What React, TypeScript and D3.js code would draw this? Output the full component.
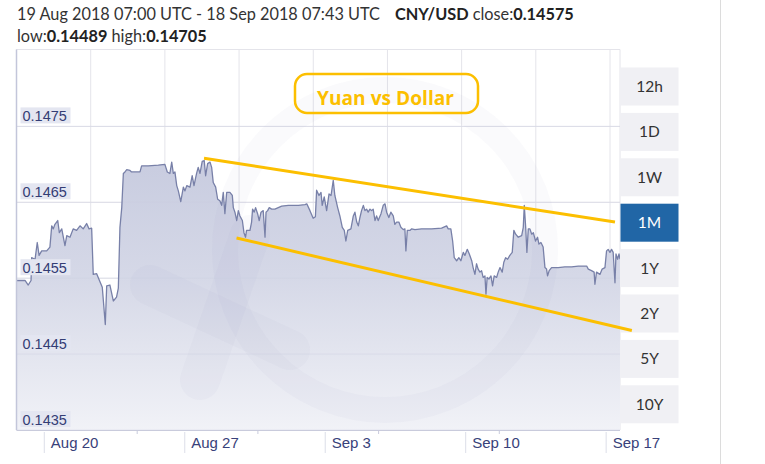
import React from "react";
import * as d3 from "d3";

// ---- chart data ----
const periodLabel = "19 Aug 2018 07:00 UTC - 18 Sep 2018 07:43 UTC";
const pairLabel = "CNY/USD";
const closeValue = "0.14575";
const lowValue = "0.14489";
const highValue = "0.14705";

// days relative to Aug 20 2018 00:00 UTC
const dayOffsets = [
  -1.385, -0.96, -0.8, -0.66, -0.63, -0.46, -0.35, -0.26, -0.13, 0.12,
  0.28, 0.37, 0.45, 0.53, 0.67, 0.75, 0.87, 1.03, 1.12, 1.28,
  1.44, 1.61, 1.78, 1.94, 2.11, 2.23, 2.36, 2.44, 2.61, 2.78,
  2.89, 3.04, 3.11, 3.27, 3.44, 3.6, 3.69, 3.77, 3.86, 3.94,
  4.02, 4.11, 4.27, 4.35, 4.77, 4.85, 5.18, 5.68, 6.01, 6.13,
  6.26, 6.35, 6.43, 6.51, 6.6, 6.68, 6.8, 6.93, 7.01, 7.1,
  7.26, 7.37, 7.46, 7.59, 7.67, 7.76, 7.87, 7.97, 8.04, 8.14,
  8.26, 8.34, 8.42, 8.54, 8.64, 8.75, 8.84, 8.92, 9.0, 9.09,
  9.25, 9.37, 9.42, 9.5, 9.59, 9.67, 9.75, 9.87, 9.95, 10.03,
  10.08, 10.25, 10.33, 10.38, 10.46, 10.53, 10.63, 10.71, 10.8, 10.91,
  11.0, 11.05, 11.13, 11.21, 11.33, 11.49, 11.66, 11.83, 12.16, 12.66,
  12.99, 13.08, 13.24, 13.4, 13.51, 13.57, 13.69, 13.79, 13.85, 13.95,
  14.07, 14.19, 14.29, 14.4, 14.48, 14.62, 14.73, 14.85, 14.95, 15.03,
  15.12, 15.28, 15.4, 15.48, 15.57, 15.65, 15.73, 15.81, 15.9, 15.98,
  16.06, 16.14, 16.23, 16.31, 16.39, 16.48, 16.56, 16.64, 16.78, 16.89,
  16.98, 17.06, 17.17, 17.27, 17.39, 17.47, 17.56, 17.67, 17.77, 17.89,
  17.97, 18.02, 18.09, 18.22, 18.31, 18.47, 18.8, 19.3, 19.8, 20.05,
  20.13, 20.26, 20.35, 20.43, 20.55, 20.66, 20.76, 20.88, 20.96, 21.08,
  21.18, 21.3, 21.37, 21.46, 21.54, 21.62, 21.71, 21.79, 21.87, 21.96,
  22.01, 22.07, 22.16, 22.26, 22.34, 22.42, 22.54, 22.62, 22.71, 22.82,
  22.9, 22.99, 23.09, 23.2, 23.32, 23.4, 23.49, 23.62, 23.79, 23.87,
  23.92, 23.99, 24.05, 24.12, 24.2, 24.29, 24.37, 24.48, 24.58, 24.65,
  24.75, 24.86, 24.95, 25.03, 25.08, 25.16, 25.28, 25.61, 25.94, 26.28,
  26.61, 27.03, 27.11, 27.27, 27.4, 27.44, 27.52, 27.69, 27.8, 27.94,
  28.02, 28.1, 28.19, 28.27, 28.35, 28.44, 28.49, 28.57, 28.64, 28.69,
];

const rates = [
  0.14547, 0.14547, 0.14541, 0.14547, 0.14577, 0.14575, 0.14597, 0.1458, 0.14586, 0.14586,
  0.14591, 0.14619, 0.14615, 0.14621, 0.14626, 0.1461, 0.14615, 0.14593, 0.14606, 0.14604,
  0.14615, 0.14613, 0.14619, 0.14615, 0.14622, 0.14615, 0.14616, 0.14555, 0.14556, 0.14545,
  0.14538, 0.14489, 0.1454, 0.14541, 0.1452, 0.14525, 0.14537, 0.14617, 0.14643, 0.14688,
  0.1469, 0.14693, 0.14692, 0.1469, 0.1469, 0.14698, 0.14698, 0.14699, 0.147, 0.1469,
  0.14688, 0.14703, 0.14688, 0.1469, 0.14672, 0.14665, 0.14651, 0.1467, 0.14665, 0.14672,
  0.1467, 0.14685, 0.14672, 0.14688, 0.14696, 0.14688, 0.14704, 0.14705, 0.14685, 0.14701,
  0.14703, 0.14696, 0.14676, 0.1467, 0.14654, 0.14652, 0.14646, 0.14663, 0.14635, 0.14663,
  0.14663, 0.14659, 0.14643, 0.14637, 0.14626, 0.14639, 0.14632, 0.14626, 0.1461, 0.14604,
  0.14613, 0.14613, 0.14624, 0.14641, 0.14637, 0.14643, 0.14635, 0.14626, 0.14637, 0.14639,
  0.14604, 0.14637, 0.14639, 0.14643, 0.14641, 0.14641, 0.14643, 0.14645, 0.14646, 0.14646,
  0.14647, 0.14648, 0.14639, 0.14629, 0.14631, 0.14666, 0.14659, 0.14663, 0.14646, 0.14657,
  0.14639, 0.14661, 0.14659, 0.14679, 0.14659, 0.14643, 0.14632, 0.14617, 0.14613, 0.14599,
  0.14613, 0.14615, 0.14632, 0.14637, 0.14624, 0.14619, 0.1463, 0.14639, 0.14646, 0.14639,
  0.14641, 0.14637, 0.14641, 0.14639, 0.14641, 0.14626, 0.14632, 0.14626, 0.14635, 0.14646,
  0.14648, 0.14637, 0.1463, 0.14637, 0.14632, 0.14621, 0.14624, 0.14624, 0.14617, 0.14614,
  0.14615, 0.14586, 0.14613, 0.14613, 0.14615, 0.14614, 0.14615, 0.14615, 0.14616, 0.14619,
  0.14615, 0.14615, 0.14599, 0.14577, 0.14573, 0.14577, 0.14573, 0.14584, 0.1458, 0.14588,
  0.14582, 0.14573, 0.14564, 0.14555, 0.14569, 0.14562, 0.14558, 0.1456, 0.14551, 0.14553,
  0.14529, 0.14551, 0.14549, 0.14553, 0.1454, 0.14553, 0.14551, 0.14558, 0.14564, 0.14558,
  0.14571, 0.14577, 0.14575, 0.1458, 0.14584, 0.14613, 0.14608, 0.14604, 0.14606, 0.14617,
  0.14646, 0.14617, 0.14584, 0.14615, 0.14615, 0.14608, 0.1461, 0.14599, 0.14604, 0.14595,
  0.14597, 0.14591, 0.14564, 0.14562, 0.14553, 0.1456, 0.14564, 0.14564, 0.14565, 0.14565,
  0.14566, 0.14566, 0.14562, 0.1456, 0.14558, 0.14542, 0.14558, 0.14555, 0.14562, 0.14564,
  0.14586, 0.14588, 0.14584, 0.14588, 0.14584, 0.14544, 0.14582, 0.14575, 0.14582, 0.14575,
];

// hand-drawn channel: [day, rate]
const resistanceLine: [number, number][] = [[7.96, 0.14708], [28.44, 0.14624]];
const supportLine: [number, number][] = [[9.58, 0.14603], [29.28, 0.14481]];

const yTicks = [0.1435, 0.1445, 0.1455, 0.1465, 0.1475];
const rangeButtons = ["12h", "1D", "1W", "1M", "1Y", "2Y", "5Y", "10Y"];
const activeRange = "1M";
const annotation = "Yuan vs Dollar";

const DAY = 86400000;
const BASE = Date.UTC(2018, 7, 20);
const toDate = (d: number) => new Date(BASE + d * DAY);

export default function App() {
  const W = 765;
  const H = 464;
  const left = 16.5;
  const right = 620;
  const top = 50.5;
  const bottom = 430;

  const x = d3
    .scaleUtc()
    .domain([toDate(-1.385), toDate(28.69)])
    .range([left, right]);
  const y = d3.scaleLinear().domain([0.1435, 0.1485]).range([bottom, top]);

  const series = dayOffsets.map((d, i) => ({ t: toDate(d), v: rates[i] }));

  const area = d3
    .area<{ t: Date; v: number }>()
    .x((p) => x(p.t))
    .y0(bottom)
    .y1((p) => y(p.v));
  const line = d3
    .line<{ t: Date; v: number }>()
    .x((p) => x(p.t))
    .y((p) => y(p.v));
  const trend = d3
    .line<[number, number]>()
    .x((p) => x(toDate(p[0])))
    .y((p) => y(p[1]));

  const xTicks = d3.utcMonday.range(toDate(0), toDate(29));
  const fmt = d3.utcFormat("%b %-d");

  // vertical grid divisions and bottom minor ticks
  const vGrid = d3.range(9).map((i) => left + (i * (610 - left)) / 8);
  const minorTicks = d3.range(1, 5).map((i) => left + (i * (right - left)) / 5);

  const btnX = 620.5;
  const btnW = 58;
  const btnH = 38;
  const btnY0 = 67.5;
  const btnStep = 45.4;

  const uiFont = "Lato, 'Open Sans', sans-serif";
  const axisFont = "'Liberation Sans', Arial, sans-serif";

  return (
    <div style={{ position: "fixed", left: 0, top: 0 }}>
      <svg width={W} height={H} style={{ display: "block", background: "#fff" }}>
        <defs>
          <linearGradient id="areaFill" x1="0" y1={150} x2="0" y2={bottom} gradientUnits="userSpaceOnUse">
            <stop offset="0" stopColor="#c7cbdf" />
            <stop offset="0.45" stopColor="#d5d8e7" />
            <stop offset="1" stopColor="#f1f2f7" />
          </linearGradient>
          <clipPath id="plotClip">
            <rect x={left} y={top} width={right - left} height={bottom - top} />
          </clipPath>
        </defs>

        {/* header */}
        <text x={17} y={20} fontFamily={uiFont} fontSize={16.3} fill="#333">
          {periodLabel}
          <tspan dx={15} fontWeight="bold" fill="#222">{pairLabel}</tspan>
          <tspan> close:</tspan>
          <tspan fontWeight="bold" fill="#222">{closeValue}</tspan>
        </text>
        <text x={17} y={42} fontFamily={uiFont} fontSize={16.3} fill="#333">
          low:<tspan fontWeight="bold" fill="#222">{lowValue}</tspan>
          <tspan> high:</tspan>
          <tspan fontWeight="bold" fill="#222">{highValue}</tspan>
        </text>

        {/* page divider */}
        <line x1={720.5} x2={720.5} y1={0} y2={H} stroke="#dcdcdc" />

        {/* grid */}
        {vGrid.map((gx, i) => (
          <line key={"v" + i} x1={gx} x2={gx} y1={top - 1} y2={bottom} stroke="#e4e4ea" />
        ))}
        <line x1={right} x2={right} y1={top - 1} y2={bottom} stroke="#e4e4ea" />
        <line x1={left} x2={right} y1={top - 1} y2={top - 1} stroke="#e4e4ea" />
        {yTicks.map((t) => (
          <line key={"h" + t} x1={left} x2={right} y1={y(t)} y2={y(t)} stroke="#e4e4ea" />
        ))}

        {/* series */}
        <g clipPath="url(#plotClip)">
          <path d={area(series) || ""} fill="url(#areaFill)" />
          {/* faint watermark */}
          <g fill="none" stroke="#8a90b8" strokeOpacity={0.045} strokeLinecap="round">
            <circle cx={385} cy={250} r={160} strokeWidth={26} />
            <line x1={150} y1={285} x2={290} y2={350} strokeWidth={40} />
            <line x1={250} y1={235} x2={200} y2={380} strokeWidth={40} />
          </g>
          {yTicks.map((t) => (
            <line key={"ho" + t} x1={left} x2={right} y1={y(t)} y2={y(t)} stroke="#c9cce0" strokeOpacity={0.35} />
          ))}
          <path d={line(series) || ""} fill="none" stroke="#7880a8" strokeWidth={1.3} strokeLinejoin="round" />
        </g>

        {/* axes */}
        <line x1={left} x2={left} y1={top - 1} y2={bottom} stroke="#c3c6da" strokeWidth={1.5} />
        <line x1={left} x2={right} y1={bottom + 0.5} y2={bottom + 0.5} stroke="#c9cbdc" />
        {minorTicks.map((mx, i) => (
          <line key={"m" + i} x1={mx} x2={mx} y1={bottom} y2={bottom + 4} stroke="#c9cbdc" />
        ))}
        {xTicks.map((t) => (
          <g key={t.toISOString()}>
            <line x1={x(t)} x2={x(t)} y1={bottom + 2} y2={bottom + 23} stroke="#dcdee8" />
            <text x={x(t) + 6.5} y={448} fontFamily={axisFont} fontSize={15} fill="#38417a">
              {fmt(t)}
            </text>
          </g>
        ))}
        {yTicks.map((t) => (
          <g key={"yl" + t}>
            <rect x={20.5} y={y(t) - 19} width={50} height={16} fill="#e4e6f1" />
            <text x={22.5} y={y(t) - 5} fontFamily={axisFont} fontSize={14.5} fill="#343d75">
              {t.toFixed(4)}
            </text>
          </g>
        ))}

        {/* range buttons */}
        {rangeButtons.map((b, i) => {
          const active = b === activeRange;
          const by = btnY0 + i * btnStep;
          return (
            <g key={b}>
              <rect x={btnX} y={by} width={btnW} height={btnH} fill={active ? "#2166a6" : "#f0f0f4"} />
              <text
                x={btnX + btnW / 2}
                y={by + btnH / 2 + 5.5}
                textAnchor="middle"
                fontFamily={uiFont}
                fontSize={15.5}
                fill={active ? "#fff" : "#333"}
              >
                {b}
              </text>
            </g>
          );
        })}

        {/* channel lines */}
        <path d={trend(resistanceLine) || ""} stroke="#fcbf00" strokeWidth={3} fill="none" />
        <path d={trend(supportLine) || ""} stroke="#fcbf00" strokeWidth={3} fill="none" />

        {/* annotation */}
        <rect x={295} y={74} width={183} height={39} rx={12} fill="none" stroke="#fcbf00" strokeWidth={2.5} />
        <text
          x={317}
          y={105}
          fontFamily="'Open Sans', sans-serif"
          fontWeight="bold"
          fontSize={19}
          fill="#fcbf00"
          textLength={137}
          lengthAdjust="spacingAndGlyphs"
        >
          {annotation}
        </text>
      </svg>
    </div>
  );
}
